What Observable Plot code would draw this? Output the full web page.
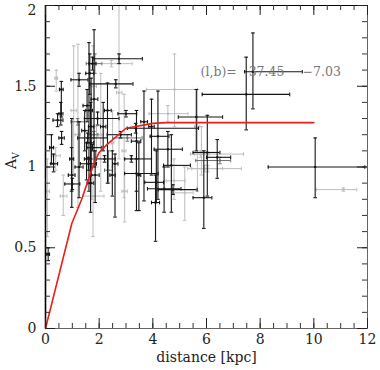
<!DOCTYPE html>
<html><head><meta charset="utf-8">
<script src="https://cdn.jsdelivr.net/npm/d3@7"></script>
<script src="https://cdn.jsdelivr.net/npm/@observablehq/plot@0.6"></script>
<style>body{margin:0;background:#fff} #chart{width:380px;height:370px}</style>
</head><body><div id="chart"></div>
<script>
// ---- data: stars (distance [kpc], A_V) with error ranges; tone 1=black, 2=dark gray, 0=light gray
const dist   = [0.10,0.07,0.30,0.38,0.59,0.57,0.60,0.66,0.97,0.98,1.25,1.21,1.25,0.45,1.20,1.00,0.40,1.05,0.22,
                1.62,1.81,1.75,1.70,1.68,1.72,1.78,1.94,1.57,1.85,1.65,1.60,1.90,1.55,1.77,1.53,1.46,1.84,1.68,1.80,1.75,
                2.74,2.74,2.62,2.46,2.31,2.06,
                3.67,3.95,4.19,4.81,4.56,3.36,3.39,4.56,4.69,3.39,4.13,4.79,5.19,5.62,5.81,4.75,5.93,3.48,4.10,4.42,2.95,2.49,2.59,2.93,3.05,3.20,
                5.78,6.40,6.03,6.05,5.90,5.66,6.50,7.73,7.48,10.05,11.10,2.20,2.35,2.80,2.50,3.00,2.15];
const av     = [0.46,0.85,1.02,1.07,1.48,1.33,1.18,0.82,1.05,0.95,1.54,1.20,1.00,1.29,1.28,0.895,1.55,1.35,1.12,
                1.35,1.42,1.64,1.25,1.15,1.05,1.50,1.30,1.18,0.95,1.58,1.02,1.12,1.38,0.82,1.05,1.225,1.64,0.90,1.20,1.12,
                1.67,1.46,1.515,1.64,1.35,1.20,
                1.28,1.25,1.19,1.48,1.33,1.24,1.16,1.11,1.01,0.96,0.905,0.915,0.84,1.31,1.08,0.86,0.99,0.95,0.78,0.865,0.85,0.95,1.02,1.10,1.18,1.05,
                1.08,1.06,1.09,0.99,0.81,1.25,1.04,1.59,1.45,1.00,0.86,1.05,0.98,1.20,1.15,1.33,1.25];
const distLo = [0.05,0.02,0.20,0.25,0.52,0.50,0.50,0.55,0.90,0.85,0.95,1.10,1.10,0.28,0.95,0.72,0.35,0.95,0.15,
                1.50,1.70,1.62,1.60,1.55,1.60,1.65,1.45,1.20,1.70,1.50,1.30,1.75,1.40,1.38,1.45,1.35,1.52,1.55,1.60,1.55,
                1.81,2.65,1.65,1.90,2.20,1.95,
                3.55,3.85,3.90,3.76,3.86,3.05,3.20,4.05,4.40,2.95,3.70,4.50,4.80,4.95,5.55,4.20,5.45,3.40,3.95,3.80,2.85,2.40,2.50,2.85,2.50,2.95,
                5.40,6.00,5.50,5.30,5.50,5.55,5.60,7.42,5.84,8.30,10.10,1.90,2.20,2.30,2.45,2.70,2.05];
const distHi = [0.15,0.15,0.45,0.55,0.66,0.65,0.70,0.80,1.05,1.10,1.58,1.30,1.40,0.65,1.45,1.28,0.45,1.15,0.30,
                1.75,1.95,1.88,1.80,1.80,1.85,1.90,2.74,2.31,2.00,1.80,1.90,2.05,1.70,2.18,1.62,1.60,2.10,1.80,1.95,2.10,
                3.61,2.85,3.26,3.23,2.45,2.15,
                3.80,4.05,4.60,5.66,5.31,5.70,3.55,5.10,5.40,4.20,4.40,5.20,5.50,6.60,6.10,5.65,6.60,3.55,4.25,5.05,3.05,2.60,2.70,3.00,3.60,3.95,
                7.38,6.90,6.50,7.30,6.20,5.75,6.90,9.57,9.10,11.90,11.60,2.60,2.50,3.20,2.55,3.40,2.25];
const avLo   = [0.42,0.57,0.97,0.98,1.31,1.26,1.14,0.70,0.85,0.75,1.50,0.75,0.81,1.25,1.26,0.86,1.47,0.95,1.02,
                0.85,1.00,1.60,0.95,0.90,0.80,1.20,1.26,1.15,0.78,1.45,0.98,1.00,1.28,0.57,0.92,1.10,1.58,0.72,1.18,1.10,
                1.64,1.05,1.49,1.62,0.90,0.85,
                0.79,0.95,0.80,1.25,1.28,1.21,0.73,1.00,0.72,0.85,0.78,0.80,0.67,1.10,0.95,0.83,0.97,0.73,0.54,0.72,0.66,0.82,0.69,0.81,1.16,1.03,
                1.06,0.93,0.82,0.97,0.62,0.85,1.02,1.36,1.23,0.81,0.85,1.03,0.90,1.18,1.00,1.31,1.10];
const avHi   = [0.50,1.05,1.08,1.12,1.53,1.40,1.22,0.95,1.12,1.30,1.58,1.76,1.28,1.33,1.30,0.93,1.60,1.75,1.20,
                1.77,1.85,1.68,1.55,1.40,1.30,1.75,1.34,1.21,1.10,1.70,1.06,1.25,1.48,0.95,1.15,1.35,1.70,1.05,1.22,1.14,
                1.70,2.00,1.54,1.66,1.52,1.58,
                1.47,1.42,1.47,1.70,1.38,1.27,1.35,1.22,1.20,1.05,1.10,1.05,1.00,1.48,1.25,0.89,1.01,1.15,0.95,1.00,1.05,1.10,1.08,1.45,1.20,1.07,
                1.10,1.17,1.32,1.01,1.10,1.48,1.06,1.83,1.68,1.18,0.87,1.07,1.10,1.22,1.35,1.35,1.40];
const tone   = [1,0,1,0,1,1,1,0,1,1,1,0,1,1,2,1,0,0,1,
                1,1,1,1,1,0,0,1,1,1,1,1,0,1,0,1,1,2,1,2,1,
                1,0,1,0,1,0,
                1,1,1,0,0,1,1,1,1,1,1,0,0,1,0,1,0,1,1,1,0,1,1,0,2,1,
                0,1,1,0,1,0,2,1,1,1,0,1,2,1,0,1,1];
// model curve
const modelDist = [0, 0.98, 1.35, 1.80, 2.00, 2.30, 3.00, 4.00, 4.50, 10.0];
const modelAv   = [0, 0.65, 0.80, 1.02, 1.09, 1.14, 1.24, 1.27, 1.275, 1.275];
// axis ticks
const majorX = [0, 2, 4, 6, 8, 10, 12];
const minorX = [0,0.5,1,1.5,2,2.5,3,3.5,4,4.5,5,5.5,6,6.5,7,7.5,8,8.5,9,9.5,10,10.5,11,11.5,12];
const majorY = [0, 0.5, 1, 1.5, 2];
const labelY = [0, 0.5, 1, 1.5];
const labelYTop = [2];
const minorY = [0,0.1,0.2,0.3,0.4,0.5,0.6,0.7,0.8,0.9,1,1.1,1.2,1.3,1.4,1.5,1.6,1.7,1.8,1.9,2];
// annotation
const annText = ["(l,b)=", "37.45", "\u22127.03"];
const annX = [5.78, 7.57, 9.58];
const annY = [1.59, 1.59, 1.59];

const W = 380, H = 370, mL = 45, mR = 13, mT = 5, mB = 42;
const innerH = H - mT - mB, innerW = W - mL - mR;

const pts = dist.map((d, i) => ({x: d, y: av[i], xlo: distLo[i], xhi: distHi[i], ylo: avLo[i], yhi: avHi[i], t: tone[i]}));
const toneColor = {0: "#bdbdbd", 2: "#707070", 1: "#151515"};
const hdash = {draw(ctx, size) { const r = Math.sqrt(size / Math.PI); ctx.moveTo(-r, 0); ctx.lineTo(r, 0); }};
const vdash = {draw(ctx, size) { const r = Math.sqrt(size / Math.PI); ctx.moveTo(0, -r); ctx.lineTo(0, r); }};

const pointMarks = [];
for (const t of [0, 2, 1]) {
  const sub = pts.filter(d => d.t === t);
  const c = toneColor[t];
  const sw = t === 1 ? 1.1 : 1;
  pointMarks.push(
    Plot.ruleY(sub, {y: "y", x1: "xlo", x2: "xhi", stroke: c, strokeWidth: sw}),
    Plot.ruleX(sub, {x: "x", y1: "ylo", y2: "yhi", stroke: c, strokeWidth: sw}),
    Plot.dot(sub, {x: "x", y: "ylo", symbol: hdash, r: 1.8, stroke: c, fill: "none", strokeWidth: sw}),
    Plot.dot(sub, {x: "x", y: "yhi", symbol: hdash, r: 1.8, stroke: c, fill: "none", strokeWidth: sw}),
    Plot.dot(sub, {x: "xlo", y: "y", symbol: vdash, r: 1.8, stroke: c, fill: "none", strokeWidth: sw}),
    Plot.dot(sub, {x: "xhi", y: "y", symbol: vdash, r: 1.8, stroke: c, fill: "none", strokeWidth: sw}),
    Plot.dot(sub, {x: "x", y: "y", symbol: "square", r: 1.2, fill: c, stroke: "none"})
  );
}

const chart = Plot.plot({
  width: W, height: H,
  marginLeft: mL, marginRight: mR, marginTop: mT, marginBottom: mB,
  x: {domain: [0, 12], label: null},
  y: {domain: [0, 2], label: null},
  style: {fontFamily: "DejaVu Serif", fontSize: "14px", color: "#222", background: "#fff"},
  marks: [
    ...pointMarks,
    Plot.line(modelDist.map((d, i) => ({x: d, y: modelAv[i]})), {x: "x", y: "y", stroke: "#e8201c", strokeWidth: 1.6}),
    Plot.text(annText.map((s, i) => ({s, x: annX[i], y: annY[i]})), {x: "x", y: "y", text: "s", textAnchor: "start", fill: "#777", fontSize: 12.5}),
    Plot.frame({stroke: "#666"}),
    Plot.ruleX([0], {stroke: "#000", strokeWidth: 1.6}),
    Plot.ruleY([2], {stroke: "#000", strokeWidth: 1.2}),
    // inward ticks on all four sides
    Plot.tickX(minorX, {x: d => d, insetTop: innerH - 5, stroke: "#333"}),
    Plot.tickX(minorX, {x: d => d, insetBottom: innerH - 5, stroke: "#333"}),
    Plot.tickX(majorX, {x: d => d, insetTop: innerH - 10, stroke: "#222"}),
    Plot.tickX(majorX, {x: d => d, insetBottom: innerH - 10, stroke: "#222"}),
    Plot.tickY(minorY, {y: d => d, insetRight: innerW - 5, stroke: "#333"}),
    Plot.tickY(minorY, {y: d => d, insetLeft: innerW - 5, stroke: "#333"}),
    Plot.tickY(majorY, {y: d => d, insetRight: innerW - 10, stroke: "#222"}),
    Plot.tickY(majorY, {y: d => d, insetLeft: innerW - 10, stroke: "#222"}),
    Plot.axisX({ticks: majorX, tickSize: 0, tickPadding: 6, tickFormat: d => String(d), label: null}),
    Plot.axisY({ticks: labelY, tickSize: 0, tickPadding: 9, tickFormat: d => String(d), label: null}),
    Plot.axisY({ticks: labelYTop, tickSize: 0, tickPadding: 9, dy: 5, tickFormat: d => String(d), label: null}),
    Plot.text(["distance [kpc]"], {frameAnchor: "bottom", dy: 33, text: d => d, fontSize: 14, fill: "#222"}),
    Plot.text(["A"], {frameAnchor: "left", dx: -34, dy: 2, rotate: -90, text: d => d, fontSize: 14, fill: "#222"}),
    Plot.text(["V"], {frameAnchor: "left", dx: -30, dy: -8, rotate: -90, text: d => d, fontSize: 9.5, fill: "#222"})
  ]
});
document.getElementById("chart").appendChild(chart);
</script>
</body></html>
